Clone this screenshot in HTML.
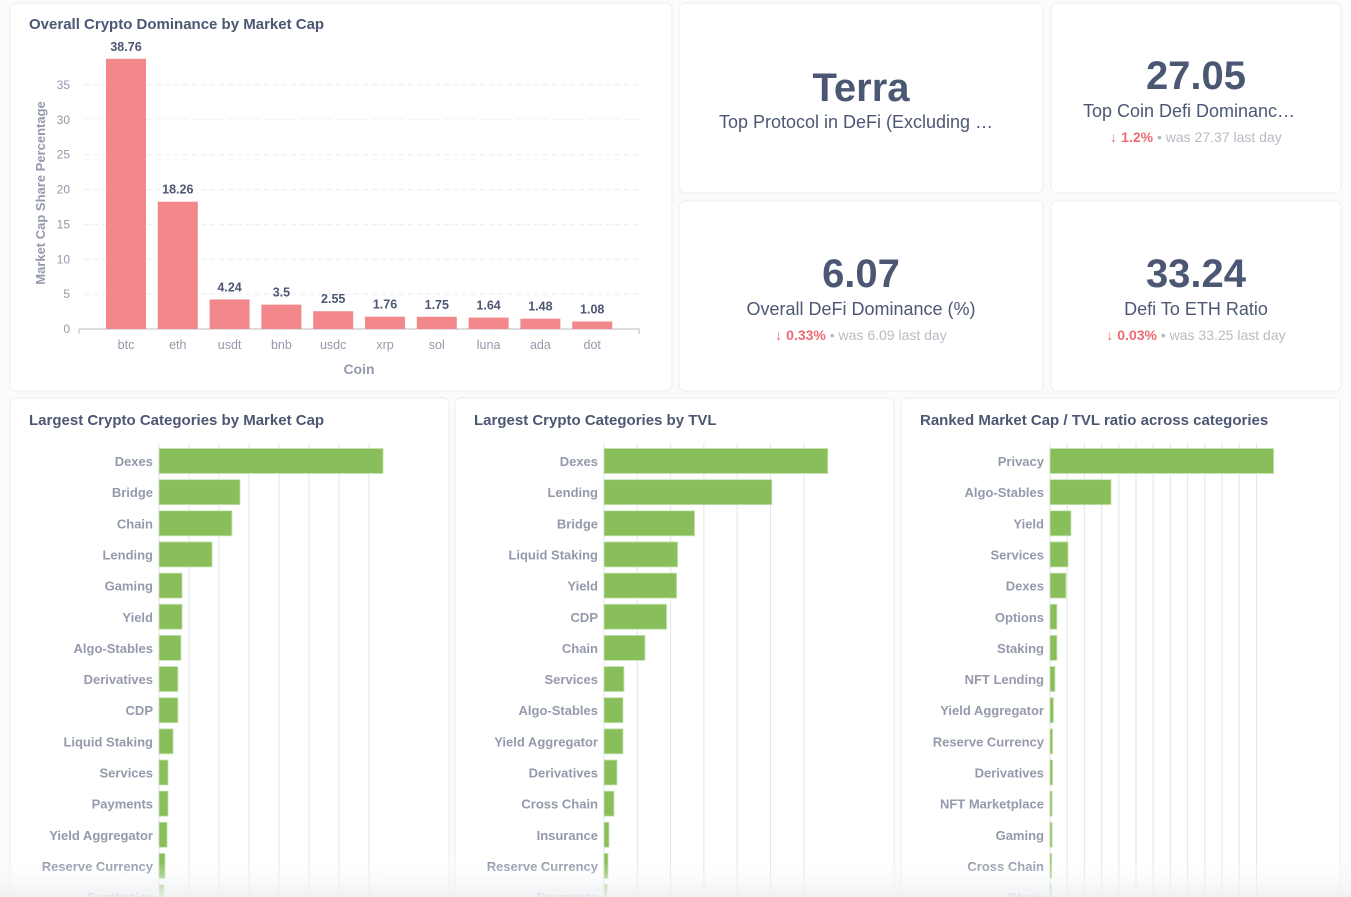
<!DOCTYPE html>
<html><head><meta charset="utf-8"><style>
html,body{margin:0;padding:0;background:#f9fbfc;width:1351px;height:897px;overflow:hidden;font-family:"Liberation Sans",sans-serif}
svg{display:block}
text{font-family:"Liberation Sans",sans-serif}
</style></head><body>
<svg id="s" width="1351" height="897" viewBox="0 0 1351 897">
<defs>
<linearGradient id="fade" x1="0" y1="0" x2="0" y2="1"><stop offset="0" stop-color="#f9fbfc" stop-opacity="0"/><stop offset="1" stop-color="#eef0f2" stop-opacity="0.9"/></linearGradient>
</defs>
<g>
<rect x="10" y="3" width="662" height="388" rx="6" fill="#fff" stroke="#eceef1"/>
<rect x="679" y="3" width="364" height="190" rx="6" fill="#fff" stroke="#eceef1"/>
<rect x="1051" y="3" width="290" height="190" rx="6" fill="#fff" stroke="#eceef1"/>
<rect x="679" y="201" width="364" height="190" rx="6" fill="#fff" stroke="#eceef1"/>
<rect x="1051" y="201" width="290" height="190" rx="6" fill="#fff" stroke="#eceef1"/>
<rect x="10" y="398" width="439" height="520" rx="6" fill="#fff" stroke="#eceef1"/>
<rect x="455" y="398" width="439" height="520" rx="6" fill="#fff" stroke="#eceef1"/>
<rect x="901" y="398" width="439" height="520" rx="6" fill="#fff" stroke="#eceef1"/>
</g>
<g fill="#4c5773" font-size="15" font-weight="bold">
<text x="29" y="29">Overall Crypto Dominance by Market Cap</text>
<text x="29" y="425">Largest Crypto Categories by Market Cap</text>
<text x="474" y="425">Largest Crypto Categories by TVL</text>
<text x="920" y="425">Ranked Market Cap / TVL ratio across categories</text>
</g>
<g text-anchor="middle" fill="#4c5773">
<text x="861" y="101" font-size="40" font-weight="bold">Terra</text>
<text x="856" y="128" font-size="18">Top Protocol in DeFi (Excluding …</text>
<text x="1196" y="89" font-size="40" font-weight="bold">27.05</text>
<text x="1189" y="117" font-size="18">Top Coin Defi Dominanc…</text>
<text x="861" y="287" font-size="40" font-weight="bold">6.07</text>
<text x="861" y="315" font-size="18">Overall DeFi Dominance (%)</text>
<text x="1196" y="287" font-size="40" font-weight="bold">33.24</text>
<text x="1196" y="315" font-size="18">Defi To ETH Ratio</text>
</g>
<g font-size="14" text-anchor="middle">
<text x="1196" y="142"><tspan fill="#ef6b73" font-weight="bold">↓  1.2%</tspan><tspan fill="#b8bbc3"> • was 27.37  last day</tspan></text>
<text x="861" y="340"><tspan fill="#ef6b73" font-weight="bold">↓  0.33%</tspan><tspan fill="#b8bbc3"> • was 6.09  last day</tspan></text>
<text x="1196" y="340"><tspan fill="#ef6b73" font-weight="bold">↓  0.03%</tspan><tspan fill="#b8bbc3"> • was 33.25  last day</tspan></text>
</g>
<g id="vchart"></g>
<g id="h1"></g>
<g id="h2"></g>
<g id="h3"></g>
<rect x="0" y="862" width="1351" height="35" fill="url(#fade)"/>
</svg>
<script>
const coins = ["btc","eth","usdt","bnb","usdc","xrp","sol","luna","ada","dot"];
const shares = [38.76,18.26,4.24,3.5,2.55,1.76,1.75,1.64,1.48,1.08];
const yTicks = [0,5,10,15,20,25,30,35];

const mcapCats = ["Dexes","Bridge","Chain","Lending","Gaming","Yield","Algo-Stables","Derivatives","CDP","Liquid Staking","Services","Payments","Yield Aggregator","Reserve Currency","Synthetics"];
const mcapVals = [7.47,2.7,2.43,1.77,0.77,0.77,0.73,0.63,0.63,0.47,0.3,0.3,0.27,0.2,0.17];
const tvlCats = ["Dexes","Lending","Bridge","Liquid Staking","Yield","CDP","Chain","Services","Algo-Stables","Yield Aggregator","Derivatives","Cross Chain","Insurance","Reserve Currency","Payments"];
const tvlVals = [6.72,5.04,2.72,2.21,2.18,1.88,1.23,0.6,0.57,0.57,0.39,0.3,0.15,0.12,0.1];
const ratioCats = ["Privacy","Algo-Stables","Yield","Services","Dexes","Options","Staking","NFT Lending","Yield Aggregator","Reserve Currency","Derivatives","NFT Marketplace","Gaming","Cross Chain","Chain"];
const ratioVals = [13.0,3.55,1.22,1.05,0.93,0.4,0.4,0.29,0.2,0.15,0.15,0.12,0.12,0.1,0.08];

const NS="http://www.w3.org/2000/svg";
function mk(parent,tag,attrs,txt){const e=document.createElementNS(NS,tag);for(const k in attrs)e.setAttribute(k,attrs[k]);if(txt!==undefined)e.textContent=txt;parent.appendChild(e);return e;}

// vertical chart
(function(){
  const g=document.getElementById('vchart');
  const x0=79,x1=639,y0=329,pxPer=244/35;
  const y=v=>y0-v*pxPer;
  const slot=51.8,first=126;
  const xc=i=>first+i*slot;
  yTicks.forEach(t=>{
    if(t>0){const l=mk(g,'line',{x1:x0+5,x2:x1,y1:y(t),y2:y(t),stroke:'#eceef1','stroke-dasharray':'5 4'});
    
    }
    const tx=mk(g,'text',{x:70,y:y(t)+4,'text-anchor':'end','font-size':12,fill:'#949aab'},String(t));
    
    
  });
  const ax=mk(g,'path',{d:`M${x0} ${y0+5}V${y0}H${x1}V${y0+5}`,stroke:'#b8bbc3',fill:'none'});
  
  
  coins.forEach((c,i)=>{
    const b=mk(g,'rect',{x:xc(i)-20,y:y(shares[i]),width:40,height:shares[i]*pxPer,fill:'#f2888b'});
    
    
    const v=mk(g,'text',{x:xc(i),y:y(shares[i])-8,'text-anchor':'middle','font-size':12.5,'font-weight':'bold',fill:'#4c5773'},String(shares[i]));
    
    
    const l=mk(g,'text',{x:xc(i),y:349,'text-anchor':'middle','font-size':12.5,fill:'#949aab'},c);
    
    
  });
  const xt=mk(g,'text',{x:359,y:374,'text-anchor':'middle','font-size':14,'font-weight':'bold',fill:'#949aab'},'Coin');
  
  
  const yt=mk(g,'text',{transform:'translate(45,193) rotate(-90)','text-anchor':'middle','font-size':13,'font-weight':'bold',fill:'#949aab'},'Market Cap Share Percentage');
  
  
})();

function hchart(id,cats,vals,x0,step,nGrid){
  const g=document.getElementById(id);
  const x=v=>x0+v*step;
  for(let i=0;i<nGrid;i++){
    const l=mk(g,'line',{x1:x(i),x2:x(i),y1:443,y2:897,stroke:'#e3e5e8'});
    
    
  }
  cats.forEach((c,i)=>{
    const yc=461+i*31.15;
    const b=mk(g,'rect',{x:x0,y:yc-12.5,width:Math.max(vals[i]*step,1.5),height:25,fill:'#88bf5a',stroke:'#c9e2b3','stroke-width':0.8});
    
    
    const t=mk(g,'text',{x:x0-6,y:yc+5,'text-anchor':'end','font-size':13,'font-weight':'bold',fill:'#949aab'},c);
    
    
  });
}
hchart('h1',mcapCats,mcapVals,159,30,8);
hchart('h2',tvlCats,tvlVals,604,33.3,7);
hchart('h3',ratioCats,ratioVals,1050,17.2,13);
</script>
</body></html>
